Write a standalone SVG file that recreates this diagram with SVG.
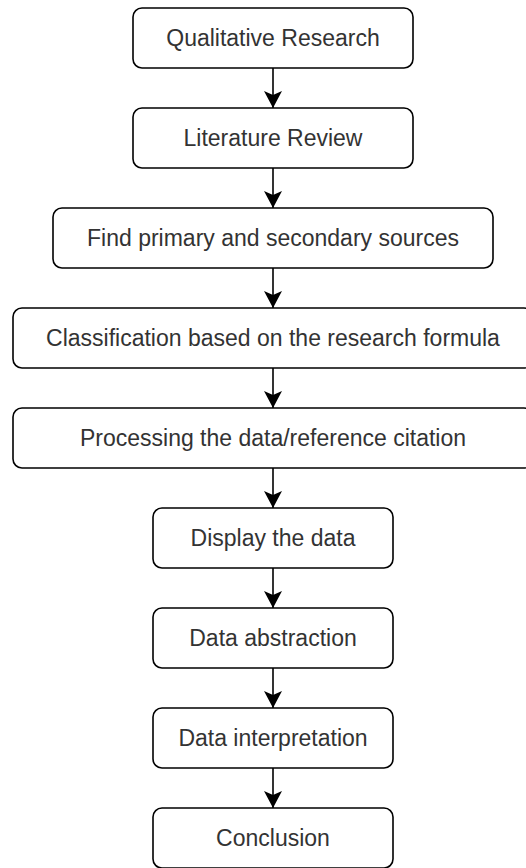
<svg xmlns="http://www.w3.org/2000/svg" width="526" height="868" viewBox="0 0 526 868">
<style>
.box{fill:#ffffff;stroke:#000000;stroke-width:1.6}
.lbl{font-family:"Liberation Sans",Arial,sans-serif;font-size:23px;fill:#333333;text-anchor:middle}
.edge{stroke:#000000;stroke-width:1.6;fill:none}
</style>
<defs>
<marker id="ah" viewBox="0 0 17 18" refX="17" refY="9" markerWidth="17" markerHeight="18" markerUnits="userSpaceOnUse" orient="auto">
<path d="M0,0 L17,9 L0,18 L4,9 Z" fill="#000000"/>
</marker>
</defs>
<rect width="526" height="868" fill="#ffffff"/>
<g id="connectors">
<line class="edge" x1="273" y1="68" x2="273" y2="108" marker-end="url(#ah)"/>
<line class="edge" x1="273" y1="168" x2="273" y2="208" marker-end="url(#ah)"/>
<line class="edge" x1="273" y1="268" x2="273" y2="308" marker-end="url(#ah)"/>
<line class="edge" x1="273" y1="368" x2="273" y2="408" marker-end="url(#ah)"/>
<line class="edge" x1="273" y1="468" x2="273" y2="508" marker-end="url(#ah)"/>
<line class="edge" x1="273" y1="568" x2="273" y2="608" marker-end="url(#ah)"/>
<line class="edge" x1="273" y1="668" x2="273" y2="708" marker-end="url(#ah)"/>
<line class="edge" x1="273" y1="768" x2="273" y2="808" marker-end="url(#ah)"/>
</g>
<g id="n1"><rect class="box" x="133" y="8" width="280" height="60" rx="9"/><text class="lbl" x="273" y="46">Qualitative Research</text></g>
<g id="n2"><rect class="box" x="133" y="108" width="280" height="60" rx="9"/><text class="lbl" x="273" y="146">Literature Review</text></g>
<g id="n3"><rect class="box" x="53" y="208" width="440" height="60" rx="9"/><text class="lbl" x="273" y="246">Find primary and secondary sources</text></g>
<g id="n4"><rect class="box" x="13" y="308" width="520" height="60" rx="9"/><text class="lbl" x="273" y="346">Classification based on the research formula</text></g>
<g id="n5"><rect class="box" x="13" y="408" width="520" height="60" rx="9"/><text class="lbl" x="273" y="446">Processing the data/reference citation</text></g>
<g id="n6"><rect class="box" x="153" y="508" width="240" height="60" rx="9"/><text class="lbl" x="273" y="546">Display the data</text></g>
<g id="n7"><rect class="box" x="153" y="608" width="240" height="60" rx="9"/><text class="lbl" x="273" y="646">Data abstraction</text></g>
<g id="n8"><rect class="box" x="153" y="708" width="240" height="60" rx="9"/><text class="lbl" x="273" y="746">Data interpretation</text></g>
<g id="n9"><rect class="box" x="153" y="808" width="240" height="60" rx="9"/><text class="lbl" x="273" y="846">Conclusion</text></g>
</svg>
